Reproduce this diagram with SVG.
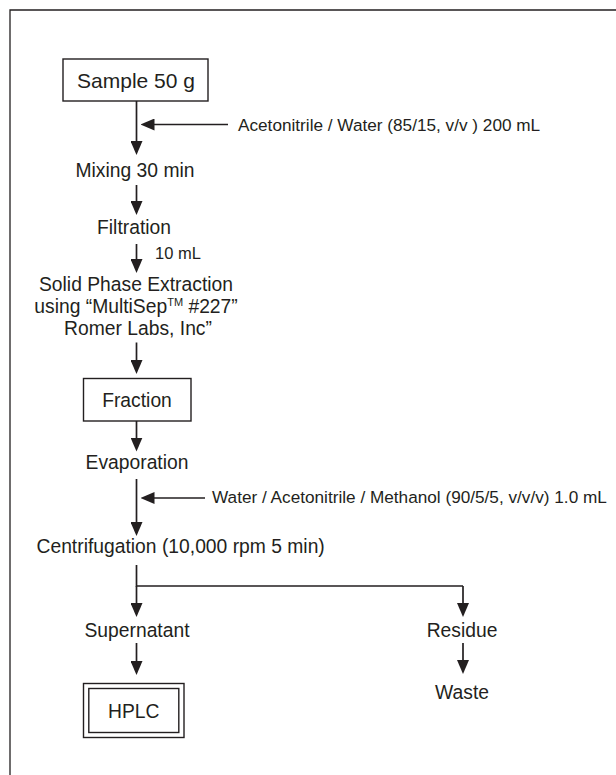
<svg xmlns="http://www.w3.org/2000/svg" width="616" height="775" viewBox="0 0 616 775">
  <style>
    .ln { stroke: #231f20; stroke-width: 1.7; fill: none; }
    .box { stroke: #231f20; stroke-width: 1.4; fill: #ffffff; }
    .frame { stroke: #231f20; stroke-width: 1.3; fill: none; }
    text { font-family: "Liberation Sans", Arial, Helvetica, sans-serif; fill: #231f20; }
    .lbl { font-size: 19.3px; text-anchor: middle; }
    .lft { font-size: 19.3px; text-anchor: start; }
    .big { font-size: 21px; text-anchor: middle; }
    .note { font-size: 17.2px; }
    .small { font-size: 16.5px; }
  </style>
  <defs>
    <!-- solid triangular arrowhead; tip sits 7px past the line end -->
    <marker id="arr" viewBox="0 0 14 12" refX="7" refY="6" markerWidth="14" markerHeight="12" markerUnits="userSpaceOnUse" orient="auto">
      <path d="M0,0 L14,6 L0,12 Z" fill="#231f20"/>
    </marker>
  </defs>

  <rect width="616" height="775" fill="#ffffff"/>

  <!-- outer frame: top and left edges only -->
  <path class="frame" d="M10,775 V10 H616"/>

  <!-- connectors -->
  <g id="connectors">
    <line class="ln" x1="136.5" y1="101" x2="136.5" y2="148" marker-end="url(#arr)"/>
    <line class="ln" x1="228" y1="124.5" x2="147.5" y2="124.5" marker-end="url(#arr)"/>
    <line class="ln" x1="136.5" y1="185" x2="136.5" y2="208" marker-end="url(#arr)"/>
    <line class="ln" x1="136.5" y1="244" x2="136.5" y2="266" marker-end="url(#arr)"/>
    <line class="ln" x1="136.5" y1="342.5" x2="136.5" y2="367" marker-end="url(#arr)"/>
    <line class="ln" x1="136.5" y1="421" x2="136.5" y2="444.5" marker-end="url(#arr)"/>
    <line class="ln" x1="136.5" y1="479" x2="136.5" y2="529" marker-end="url(#arr)"/>
    <line class="ln" x1="205" y1="498" x2="147.5" y2="498" marker-end="url(#arr)"/>
    <path class="ln" d="M136.5,565 V586 H463"/>
    <line class="ln" x1="136.5" y1="586" x2="136.5" y2="610" marker-end="url(#arr)"/>
    <line class="ln" x1="463" y1="586" x2="463" y2="610" marker-end="url(#arr)"/>
    <line class="ln" x1="136.5" y1="643" x2="136.5" y2="668" marker-end="url(#arr)"/>
    <line class="ln" x1="463" y1="643" x2="463" y2="667" marker-end="url(#arr)"/>
  </g>

  <!-- nodes -->
  <g id="sample">
    <rect class="box" x="63" y="59" width="145" height="42"/>
    <text class="big" x="136" y="88.3">Sample 50 g</text>
  </g>
  <g id="solvent1">
    <text class="note" x="238" y="130.5">Acetonitrile / Water (85/15, v/v ) 200 mL</text>
  </g>
  <g id="mixing">
    <text class="lbl" x="135" y="176.5">Mixing 30 min</text>
  </g>
  <g id="filtration">
    <text class="lbl" x="134" y="234">Filtration</text>
  </g>
  <g id="aliquot">
    <text class="small" x="155" y="258.5">10 mL</text>
  </g>
  <g id="spe">
    <text class="lbl" x="136" y="291">Solid Phase Extraction</text>
    <text class="lbl" x="136" y="312.5">using “MultiSep<tspan font-size="11" dy="-7">TM</tspan><tspan dy="7"> #227”</tspan></text>
    <text class="lbl" x="138" y="334.5">Romer Labs, Inc”</text>
  </g>
  <g id="fraction">
    <rect class="box" x="83.5" y="378.5" width="107.5" height="42.5"/>
    <text class="lbl" x="137" y="407">Fraction</text>
  </g>
  <g id="evaporation">
    <text class="lbl" x="137" y="469">Evaporation</text>
  </g>
  <g id="solvent2">
    <text class="note" x="212" y="503">Water / Acetonitrile / Methanol (90/5/5, v/v/v) 1.0 mL</text>
  </g>
  <g id="centrifugation">
    <text class="lft" x="36.5" y="552.5">Centrifugation (10,000 rpm 5 min)</text>
  </g>
  <g id="supernatant">
    <text class="lbl" x="137" y="637">Supernatant</text>
  </g>
  <g id="residue">
    <text class="lbl" x="462" y="636.5">Residue</text>
  </g>
  <g id="hplc">
    <rect class="box" x="83.5" y="683.5" width="100.5" height="54" stroke-width="2"/>
    <rect class="box" x="88.8" y="688.5" width="90" height="44" stroke-width="1.8"/>
    <text class="lbl" x="133.8" y="718.3">HPLC</text>
  </g>
  <g id="waste">
    <text class="lbl" x="462" y="699">Waste</text>
  </g>
</svg>
